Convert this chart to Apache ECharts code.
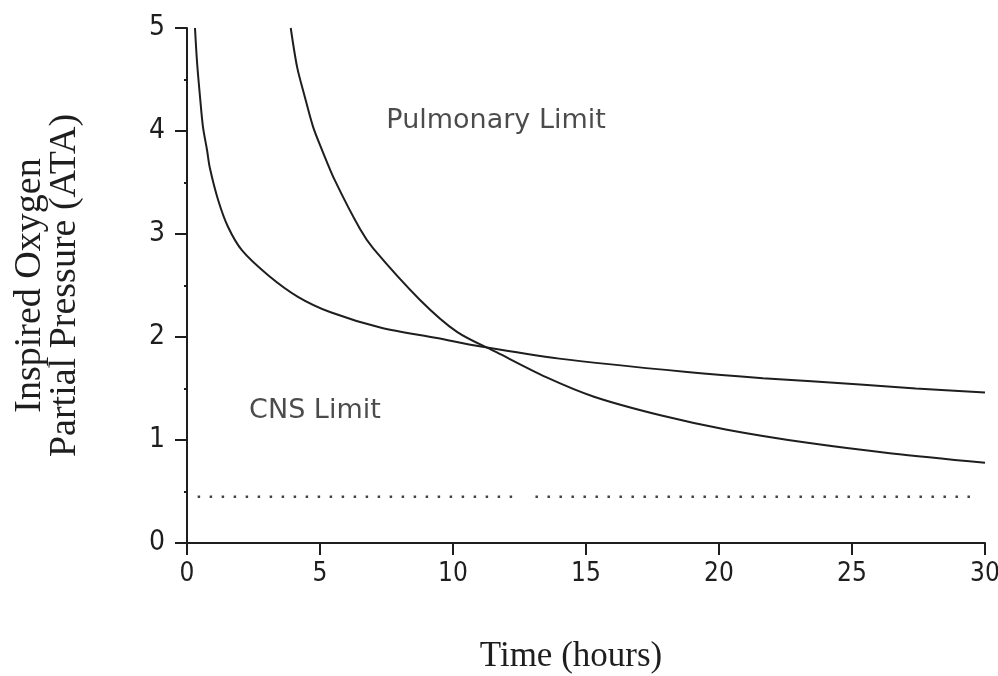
<!DOCTYPE html>
<html>
<head>
<meta charset="utf-8">
<script src="https://cdn.jsdelivr.net/npm/echarts@6/dist/echarts.min.js"></script>
<style>html,body{margin:0;padding:0;background:#fff;overflow:hidden;}#c{width:998px;height:676px;}</style>
</head>
<body>
<div id="c"></div>
<script>
// CNS limit curve (time in hours, inspired O2 partial pressure in ATA)
var cnsTime = [0.3, 0.38, 0.49, 0.6, 0.75, 0.86, 1.17, 1.54, 2.07, 3.05, 4.17, 5.4, 7.3, 9.4, 11.0, 14.0, 18.8, 21.65, 25.3, 27.4, 30];
var cnsPO2  = [5.0, 4.66, 4.33, 4.04, 3.82, 3.64, 3.33, 3.07, 2.84, 2.60, 2.39, 2.24, 2.09, 1.99, 1.91, 1.79, 1.66, 1.60, 1.54, 1.50, 1.46];
// Pulmonary limit curve
var pulmTime = [3.9, 4.14, 4.4, 4.74, 5.07, 5.56, 6.5, 7.0, 8.76, 10.15, 11.65, 13.5, 15.3, 17.8, 20.3, 23.4, 26.5, 30];
var pulmPO2  = [5.0, 4.62, 4.36, 4.04, 3.82, 3.52, 3.05, 2.86, 2.36, 2.05, 1.85, 1.61, 1.42, 1.24, 1.10, 0.97, 0.87, 0.78];
// dotted reference line (null = gap)
var dotTime = [0.4, 12.4, null, 13.1, 29.6];
var dotLevel = 0.45;
// text annotations
var noteText = ['Pulmonary Limit', 'CNS Limit'];
var noteTime = [11.62, 4.81];
var notePO2  = [4.10, 1.28];
var xTicks = [0, 5, 10, 15, 20, 25, 30];
var yTicks = [0, 1, 2, 3, 4, 5];

function pairs(xs, ys){ return xs.map(function(x,i){ return [x, ys[i]]; }); }

var chart = echarts.init(document.getElementById('c'), null, {width: 998, height: 676});
var tickFont = "'Liberation Sans Narrow','DejaVu Sans Condensed',sans-serif";
var ink = '#1e1e1e';
chart.setOption({
  backgroundColor: '#ffffff',
  animation: false,
  grid: {left: 187, right: 13, top: 28, bottom: 133, containLabel: false, outerBoundsMode: 'none'},
  xAxis: {
    type: 'value', min: xTicks[0], max: xTicks[xTicks.length-1], interval: 5,
    name: 'Time (hours)', nameLocation: 'middle', nameGap: 96,
    nameTextStyle: {fontFamily: "'Liberation Serif',serif", fontSize: 35, color: ink, padding: [0, 30, 0, 0]},
    axisLine: {show: true, lineStyle: {color: ink, width: 2}},
    axisTick: {show: true, length: 12, lineStyle: {color: ink, width: 2}},
    axisLabel: {margin: 18, fontFamily: tickFont, fontSize: 26, color: ink},
    splitLine: {show: false}
  },
  yAxis: {
    type: 'value', min: yTicks[0], max: yTicks[yTicks.length-1], interval: 1,
    name: 'Inspired Oxygen\nPartial Pressure (ATA)', nameLocation: 'middle', nameRotate: 90, nameGap: 104,
    nameTextStyle: {fontFamily: "'Liberation Serif',serif", fontSize: 38, lineHeight: 35, color: ink},
    axisLine: {show: true, lineStyle: {color: ink, width: 2}},
    axisTick: {show: true, length: 12, lineStyle: {color: ink, width: 2}},
    minorTick: {show: true, splitNumber: 2, length: 3, lineStyle: {color: ink, width: 2}},
    axisLabel: {margin: 22, fontFamily: tickFont, fontSize: 28, color: ink},
    splitLine: {show: false}
  },
  series: [
    {type: 'line', name: 'CNS', data: pairs(cnsTime, cnsPO2), showSymbol: false, smooth: 0.3,
     lineStyle: {color: ink, width: 2}},
    {type: 'line', name: 'Pulmonary', data: pairs(pulmTime, pulmPO2), showSymbol: false, smooth: 0.3,
     lineStyle: {color: ink, width: 2}},
    {type: 'line', name: 'ref', data: dotTime.map(function(t){ return t === null ? ['-', '-'] : [t, dotLevel]; }),
     showSymbol: false, connectNulls: false,
     lineStyle: {color: '#444', width: 2.5, type: [2.5, 9.5]}},
    {type: 'scatter', name: 'notes', symbolSize: 0,
     data: noteText.map(function(s,i){ return [noteTime[i], notePO2[i], s]; }),
     label: {show: true, position: 'inside', formatter: function(p){ return p.value[2]; },
             fontFamily: "'DejaVu Sans',sans-serif", fontSize: 27, color: ink}}
  ]
});
</script>
</body>
</html>
